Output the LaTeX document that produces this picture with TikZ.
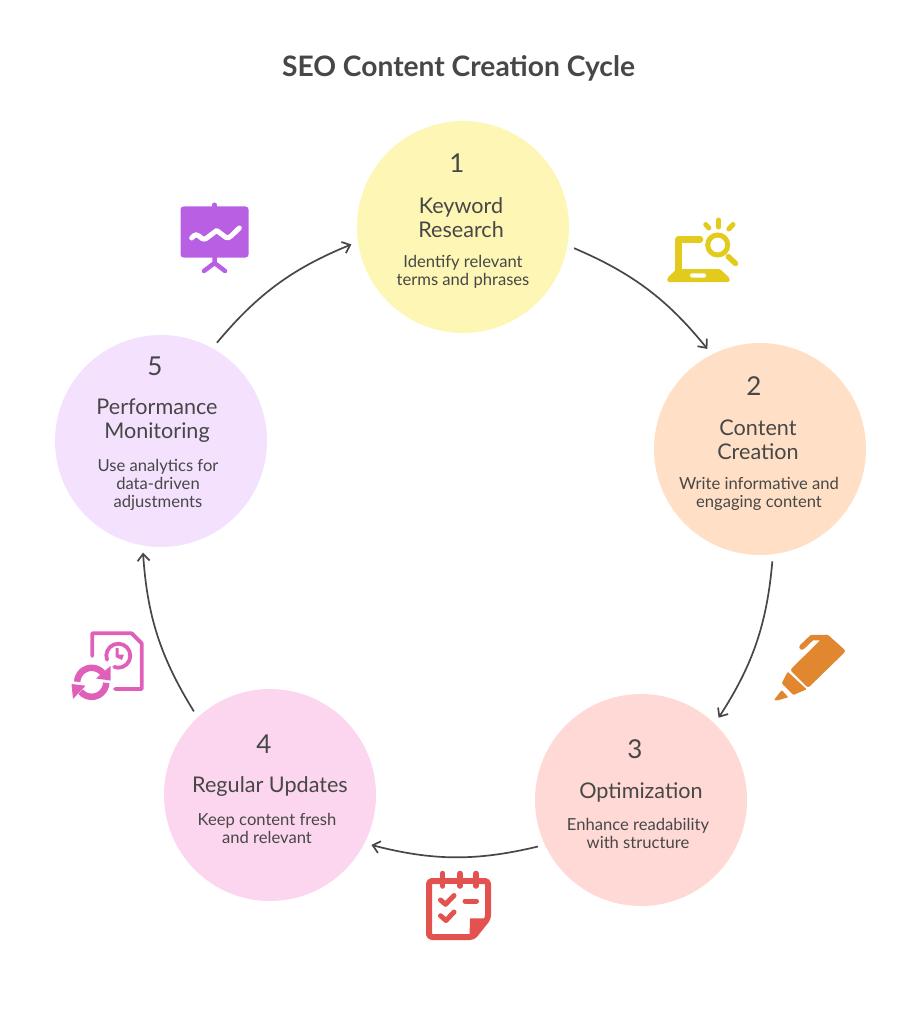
\documentclass[tikz,border=0pt]{standalone}
\usepackage{fontspec}
\setmainfont{Lato}
\usetikzlibrary{arrows.meta}
\definecolor{inkgray}{HTML}{474747}
\definecolor{fillone}{HTML}{FEF6B4}
\definecolor{filltwo}{HTML}{FFE0C6}
\definecolor{fillthree}{HTML}{FFD9D6}
\definecolor{fillfour}{HTML}{FCD6EF}
\definecolor{fillfive}{HTML}{F3E1FD}
\definecolor{iconone}{HTML}{E2CB1C}
\definecolor{icontwo}{HTML}{E0872F}
\definecolor{iconthree}{HTML}{E4524F}
\definecolor{iconfour}{HTML}{E05FB8}
\definecolor{iconfive}{HTML}{B95FE3}
\tikzset{
  stagecircle/.style={circle, minimum size=212pt, inner sep=0pt},
  titletext/.style={text=inkgray, font=\fontsize{28.2}{32}\selectfont\bfseries},
  numtext/.style={text=inkgray, font=\fontsize{26}{30}\selectfont},
  headtext/.style={text=inkgray, align=center, font=\fontsize{21.6}{24}\selectfont},
  desctext/.style={text=inkgray, align=center, font=\fontsize{16.6}{18}\selectfont},
  flowarrow/.style={draw=inkgray, line width=1.7pt, -{Straight Barb[length=7pt,width=12pt]},
    bend left=14, shorten >=7pt, shorten <=7pt},
  iconline/.style={line cap=round, line join=round},
}
\begin{document}
\begin{tikzpicture}[x=1pt, y=-1pt]
\useasboundingbox (0,0) rectangle (917,1024);
\node[titletext] (title) at (458.5,68.5){SEO Content Creation Cycle};
\node[stagecircle, fill=fillone] (stage1) at (463,227){};
\node[stagecircle, fill=filltwo] (stage2) at (760,449){};
\node[stagecircle, fill=fillthree] (stage3) at (641,800){};
\node[stagecircle, fill=fillfour] (stage4) at (270,795){};
\node[stagecircle, fill=fillfive] (stage5) at (161,441){};
\draw[flowarrow] (stage1.-10.7) to (stage2.117);
\draw[flowarrow] (stage2.-83.3) to (stage3.46.4);
\draw[flowarrow] (stage3.205) to (stage4.-27);
\draw[flowarrow] (stage4.133.6) to (stage5.-100.2);
\draw[flowarrow] (stage5.61.4) to (stage1.188.3);
\node[numtext] (num1) at (457,163){1};
\node[headtext] (head1) at (461,217.5){Keyword\\Research};
\node[desctext] (desc1) at (463,271.5){Identify relevant\\terms and phrases};
\node[numtext] (num2) at (754,386){2};
\node[headtext] (head2) at (758,440){Content\\Creation};
\node[desctext] (desc2) at (759,493.5){Write informative and\\engaging content};
\node[numtext] (num3) at (635,749){3};
\node[headtext] (head3) at (641,792){Optimization};
\node[desctext] (desc3) at (638,833){Enhance readability\\with structure};
\node[numtext] (num4) at (264,744){4};
\node[headtext] (head4) at (270,787){Regular Updates};
\node[desctext] (desc4) at (267,828){Keep content fresh\\and relevant};
\node[numtext] (num5) at (155,366){5};
\node[headtext] (head5) at (157,420.5){Performance\\Monitoring};
\node[desctext] (desc5) at (158,485){Use analytics for\\data-driven\\adjustments};
% laptop
\draw[iconline, draw=iconone, line width=6.5pt] (700,239.5) -- (678.5,239.5) -- (678.5,270);
\fill[iconone, rounded corners=1.5pt] (676.7,269) -- (720,269) -- (729.5,278) -- (729.5,282) -- (667.3,282) -- (667.3,278) -- cycle;
\fill[white, rounded corners=1.5pt] (690,273.3) rectangle (706,277.5);
\draw[draw=iconone, line width=5pt] (717.7,245) circle[radius=10pt];
\draw[iconline, draw=iconone, line width=5.5pt] (728.3,256.7) -- (735.5,263.5);
\draw[iconline, draw=iconone, line width=5pt] (705.7,224.5) -- (708.8,228);
\draw[iconline, draw=iconone, line width=5pt] (718.7,220) -- (718.7,227);
\draw[iconline, draw=iconone, line width=5pt] (733,224.5) -- (728.8,229);
% marker
\fill[icontwo, rounded corners=2.5pt] (827,634) -- (846,651) -- (808,688) -- (790,670) -- (820,640.5) -- (821,636) -- cycle;
\draw[iconline, draw=icontwo, line width=5.5pt] (802,647) -- (812,637.5) -- (822,637.5);
\fill[icontwo, rounded corners=1pt] (787.7,671.7) -- (806.7,689.3) -- (793.3,695) -- (781.7,683.3) -- cycle;
\fill[icontwo, rounded corners=1pt] (781.7,690) -- (788.3,697.3) -- (777,700.5) -- (774,700) -- cycle;
% checklist
\draw[iconline, draw=iconthree, line width=6pt, rounded corners=3pt] (442.7,881) -- (429,881) -- (429,937) -- (473,937) -- (488,918.3) -- (488,881) -- (476,881);
\draw[iconline, draw=iconthree, line width=6pt] (442.7,881) -- (476,881);
\foreach \pegx in {442.7,460,476}
  \draw[iconline, draw=iconthree, line width=5.5pt] (\pegx,873.5) -- (\pegx,886);
\fill[iconthree] (470,918.3) -- (488,918.3) -- (475,938) -- (469.5,938) -- cycle;
\draw[iconline, draw=iconthree, line width=5pt] (440.5,900) -- (445.5,904.3) -- (454,895.5);
\draw[iconline, draw=iconthree, line width=5pt] (440.5,915.7) -- (446,920.5) -- (454,912);
\draw[iconline, draw=iconthree, line width=5pt] (465,901) -- (476.5,901);
% document and sync
\draw[iconline, draw=iconfour, line width=3.8pt] (92.3,656) -- (92.3,633.3) -- (131.7,633.3) -- (141.7,643.3) -- (141.7,689) -- (115,689);
\draw[iconline, draw=iconfour, line width=3.8pt] (118.3,655.7) ++(200:12pt) arc[start angle=200, end angle=-110, radius=12pt];
\fill[iconfour] (115.5,648) -- (118.5,648) -- (118.5,654.5) -- (124,654.5) -- (122,660) -- (115.5,657) -- cycle;
\draw[draw=iconfour, line width=6.5pt] (91.7,682.3) ++(178:14.5pt) arc[start angle=178, end angle=40, radius=14.5pt];
\fill[iconfour] (110.5,666) -- (110.5,680.5) -- (96,678.5) -- cycle;
\draw[draw=iconfour, line width=6.5pt] (91.7,682.3) ++(-2:14.5pt) arc[start angle=-2, end angle=-140, radius=14.5pt];
\fill[iconfour] (71.5,684) -- (85.5,685.7) -- (73,699) -- cycle;
% presentation board
\fill[iconfive, rounded corners=3pt] (180.5,206.5) rectangle (248.5,257.5);
\draw[iconline, draw=iconfive, line width=5pt] (214.5,205) -- (214.5,207);
\draw[iconline, draw=iconfive, line width=4.5pt] (214.5,257) -- (214.5,263) (204,271) -- (214.5,263) -- (225,271);
\draw[iconline, draw=white, line width=5pt] (191.7,238) .. controls (195,234) and (197,234) .. (199,236) .. controls (203,240) and (205,240) .. (208,237) -- (216.7,230.5) -- (226,237.5) .. controls (229,239) and (231,236) .. (239.3,228);
\end{tikzpicture}
\end{document}
